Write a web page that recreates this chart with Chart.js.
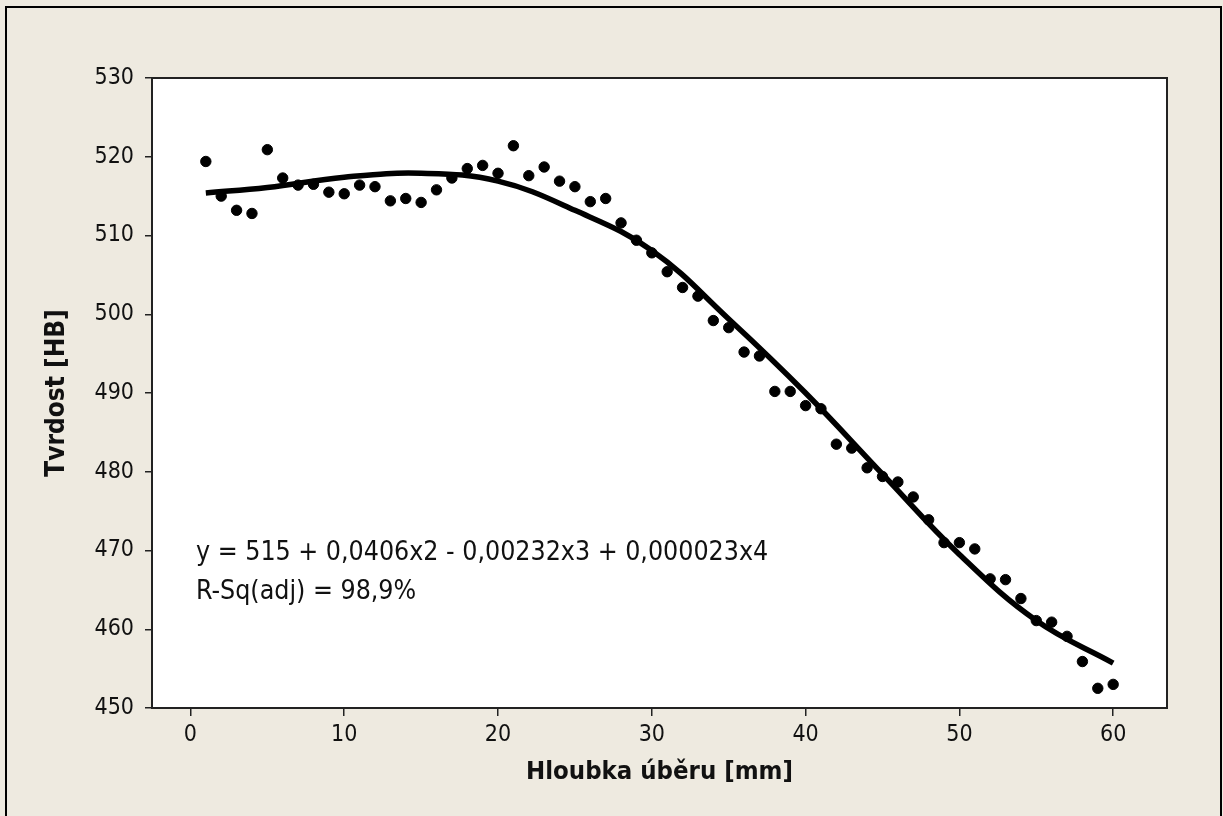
<!DOCTYPE html>
<html>
<head>
<meta charset="utf-8">
<script src="https://cdn.jsdelivr.net/npm/chart.js@4/dist/chart.umd.min.js"></script>
<style>
  html, body { margin: 0; padding: 0; background: #eeeae0; }
  #graf { display: block; }
</style>
</head>
<body>
<canvas id="graf" width="1223" height="816"></canvas>
<script>
// Naměřené body: hloubka úběru [mm] a tvrdost [HB]
const hloubka = [1, 2, 3, 4, 5, 6, 7, 8, 9, 10, 11, 12, 13, 14, 15, 16, 17, 18, 19, 20,
  21, 22, 23, 24, 25, 26, 27, 28, 29, 30, 31, 32, 33, 34, 35, 36, 37, 38, 39, 40,
  41, 42, 43, 44, 45, 46, 47, 48, 49, 50, 51, 52, 53, 54, 55, 56, 57, 58, 59, 60];
const tvrdost = [519.4, 515.0, 513.2, 512.8, 520.9, 517.3, 516.4, 516.5, 515.5, 515.3,
  516.4, 516.2, 514.4, 514.7, 514.2, 515.8, 517.3, 518.5, 518.9, 517.9,
  521.4, 517.6, 518.7, 516.9, 516.2, 514.3, 514.7, 511.6, 509.4, 507.8,
  505.4, 503.4, 502.3, 499.2, 498.3, 495.2, 494.7, 490.2, 490.2, 488.4,
  488.0, 483.5, 483.0, 480.5, 479.4, 478.7, 476.8, 473.9, 471.0, 471.0,
  470.2, 466.4, 466.3, 463.9, 461.1, 460.9, 459.1, 455.9, 452.5, 453.0];

// Regresní křivka
const krivkaX = [1, 5, 10, 15, 20, 25, 30, 35, 40, 45, 50, 55, 60];
const krivkaY = [515.4, 516.1, 517.4, 517.9, 516.9, 513.2, 508.1, 499.4, 490.0, 479.7, 469.5, 461.1, 455.7];

const xTicks = [0, 10, 20, 30, 40, 50, 60];
const yTicks = [450, 460, 470, 480, 490, 500, 510, 520, 530];

const rovnice = 'y = 515 + 0,0406x2 - 0,00232x3 + 0,000023x4';
const rsq = 'R-Sq(adj) = 98,9%';

const PISMO = '"DejaVu Sans Condensed", "DejaVu Sans", sans-serif';

// Pozadí, rámeček a text s rovnicí
const pozadi = {
  id: 'pozadi',
  beforeDraw(chart) {
    const { ctx, chartArea: a } = chart;
    ctx.save();
    ctx.fillStyle = '#eeeae0';
    ctx.fillRect(0, 0, chart.width, chart.height);
    ctx.strokeStyle = '#000';
    ctx.lineWidth = 2;
    ctx.strokeRect(6, 7, 1215, 830);
    ctx.fillStyle = '#fff';
    ctx.fillRect(a.left, a.top, a.right - a.left, a.bottom - a.top);
    ctx.restore();
  },
  afterDraw(chart) {
    const { ctx, chartArea: a } = chart;
    ctx.save();
    ctx.strokeStyle = '#222';
    ctx.lineWidth = 2;
    ctx.strokeRect(a.left, a.top, a.right - a.left, a.bottom - a.top);
    ctx.fillStyle = '#111';
    ctx.font = '26.5px ' + PISMO;
    ctx.textBaseline = 'alphabetic';
    ctx.fillText(rovnice, 196, 560);
    ctx.fillText(rsq, 196, 599);
    ctx.restore();
  }
};

new Chart(document.getElementById('graf'), {
  data: {
    datasets: [
      {
        type: 'line',
        data: krivkaX.map((x, i) => ({ x: x, y: krivkaY[i] })),
        borderColor: '#000',
        borderWidth: 5.5,
        pointRadius: 0,
        tension: 0.4,
        fill: false
      },
      {
        type: 'scatter',
        data: hloubka.map((x, i) => ({ x: x, y: tvrdost[i] })),
        backgroundColor: '#000',
        borderColor: '#000',
        pointRadius: 5.2,
        pointHoverRadius: 5.2
      }
    ]
  },
  options: {
    responsive: false,
    animation: false,
    layout: { padding: { left: 38, top: 78, right: 56, bottom: 24 } },
    plugins: { legend: { display: false }, tooltip: { enabled: false } },
    scales: {
      x: {
        type: 'linear',
        min: -2.5,
        max: 63.5,
        afterBuildTicks: s => { s.ticks = xTicks.map(v => ({ value: v })); },
        afterFit: s => { s.height = 84; },
        grid: { drawOnChartArea: false, drawTicks: true, tickLength: 8, color: '#222', lineWidth: 1.5 },
        border: { display: false },
        ticks: { color: '#111', font: { family: PISMO, size: 23 }, padding: 5, maxRotation: 0 },
        title: { display: true, text: 'Hloubka úběru [mm]', color: '#111', font: { family: PISMO, size: 25.5, weight: 'bold' } }
      },
      y: {
        type: 'linear',
        min: 450,
        max: 530,
        afterBuildTicks: s => { s.ticks = yTicks.map(v => ({ value: v })); },
        afterFit: s => { s.width = 114; },
        grid: { drawOnChartArea: false, drawTicks: true, tickLength: 7, color: '#222', lineWidth: 1.5 },
        border: { display: false },
        ticks: { color: '#111', font: { family: PISMO, size: 23 }, padding: 11 },
        title: { display: true, text: 'Tvrdost [HB]', color: '#111', font: { family: PISMO, size: 26, weight: 'bold' } }
      }
    }
  },
  plugins: [pozadi]
});
</script>
</body>
</html>
